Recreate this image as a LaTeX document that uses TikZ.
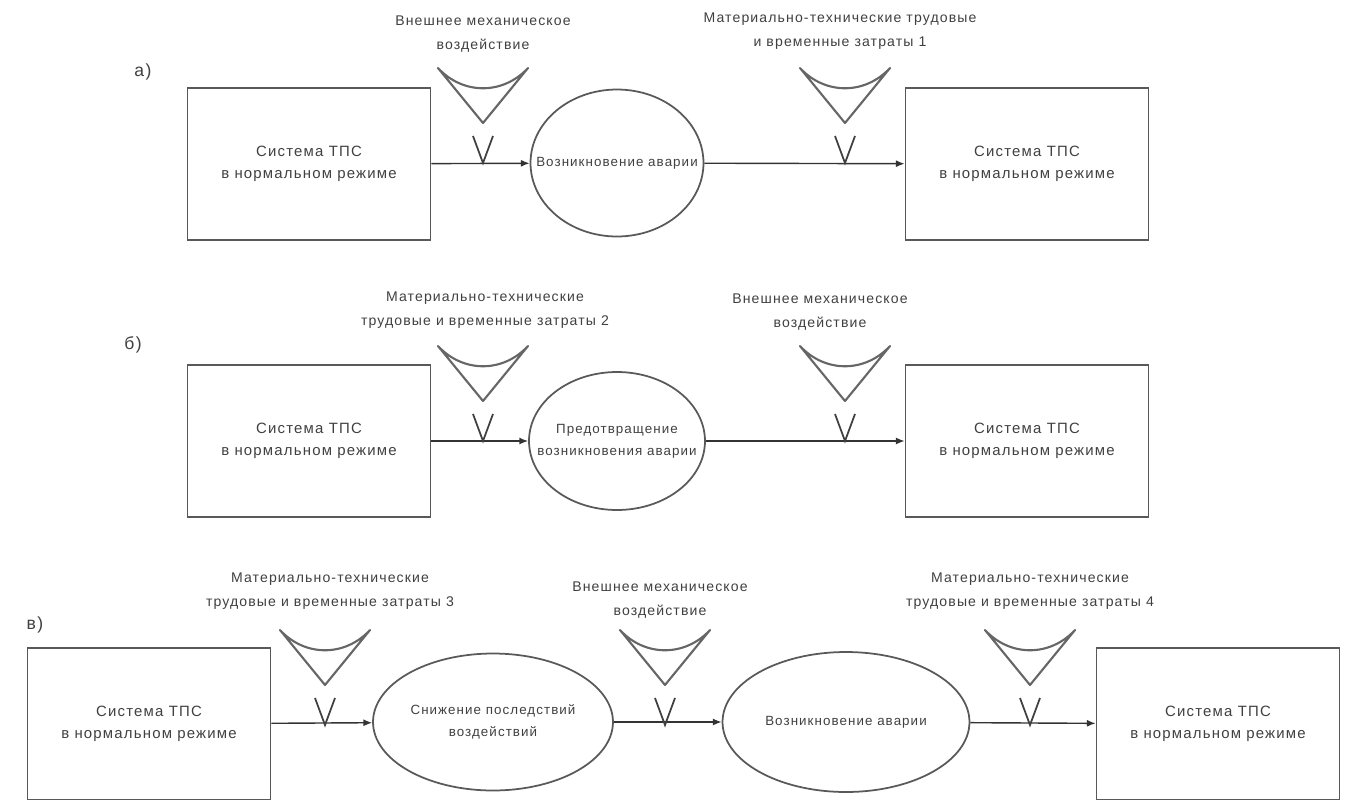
\documentclass[tikz,border=0pt]{standalone}
\usepackage{fontspec}
\setmainfont[LetterSpace=8]{Liberation Sans}
\usetikzlibrary{shapes.geometric, arrows.meta}

\begin{document}
\begin{tikzpicture}[
        x=0.02cm, y=-0.02cm,
        every node/.style = {
            text=black!75,
            align=center
        },
        note/.style = {
            font=\fontsize{8}{14}\selectfont
        },
        sysbox/.style = {
            draw=black!65, line width=1pt,
            font=\fontsize{8.5}{12.5}\selectfont,
            minimum width=4.86cm, minimum height=3.04cm
        },
        event/.style = {
            ellipse, draw=black!65, line width=1pt,
            inner xsep=-12pt, inner ysep=0pt,
            font=\fontsize{7.6}{12.5}\selectfont
        },
        flow/.style = {
            draw=black!80, line width=0.8pt, -{Latex[length=5pt, width=4pt]}
        },
        funnel/.pic = {
            \draw[black!60, line width=1.2pt, line join=round]
                (-45,-95) .. controls (-20,-68) and (20,-68) .. (45,-95)
                -- (0,-40) -- cycle;
            \draw[black!75, line width=1pt] (-10,-27) -- (0,0) -- (10,-27);
        }]
        \useasboundingbox (0,0) rectangle (1347,799);

        \node (la) at (143,72) {а)};
        \node (lb) at (133,345) {б)};
        \node (lc) at (35,625) {в)};

        \node[sysbox] (a1) at (309,164) {Система ТПС\\в нормальном режиме};
        \node[event, minimum width=3.46cm, minimum height=2.94cm] (ea) at (617,163) {Возникновение аварии};
        \node[sysbox] (a2) at (1027,164) {Система ТПС\\в нормальном режиме};
        \draw[flow] (a1) -- (ea);
        \draw[flow] (ea) -- (a2);
        \pic at (483,163) {funnel};
        \pic at (845,163) {funnel};
        \node[note] (ta1) at (483,34) {Внешнее механическое\\воздействие};
        \node[note] (ta2) at (840,31) {Материально-технические трудовые\\и временные затраты 1};

        \node[sysbox] (b1) at (309,441) {Система ТПС\\в нормальном режиме};
        \node[event, minimum width=3.52cm, minimum height=2.76cm] (eb) at (617,441) {Предотвращение\\возникновения аварии};
        \node[sysbox] (b2) at (1027,441) {Система ТПС\\в нормальном режиме};
        \draw[flow] (b1) -- (eb);
        \draw[flow] (eb) -- (b2);
        \pic at (483,441) {funnel};
        \pic at (845,441) {funnel};
        \node[note] (tb1) at (485,310) {Материально-технические\\трудовые и временные затраты 2};
        \node[note] (tb2) at (820,312) {Внешнее механическое\\воздействие};

        \node[sysbox] (c1) at (149,724) {Система ТПС\\в нормальном режиме};
        \node[event, minimum width=4.8cm, minimum height=2.74cm] (ec1) at (493,722) {Снижение последствий\\воздействий};
        \node[event, minimum width=4.94cm, minimum height=2.8cm] (ec2) at (846,722) {Возникновение аварии};
        \node[sysbox] (c2) at (1218,724) {Система ТПС\\в нормальном режиме};
        \draw[flow] (c1) -- (ec1);
        \draw[flow] (ec1) -- (ec2);
        \draw[flow] (ec2) -- (c2);
        \pic at (325,725) {funnel};
        \pic at (665,725) {funnel};
        \pic at (1030,725) {funnel};
        \node[note] (tc1) at (330,591) {Материально-технические\\трудовые и временные затраты 3};
        \node[note] (tc2) at (660,600) {Внешнее механическое\\воздействие};
        \node[note] (tc3) at (1030,591) {Материально-технические\\трудовые и временные затраты 4};
\end{tikzpicture}
\end{document}
